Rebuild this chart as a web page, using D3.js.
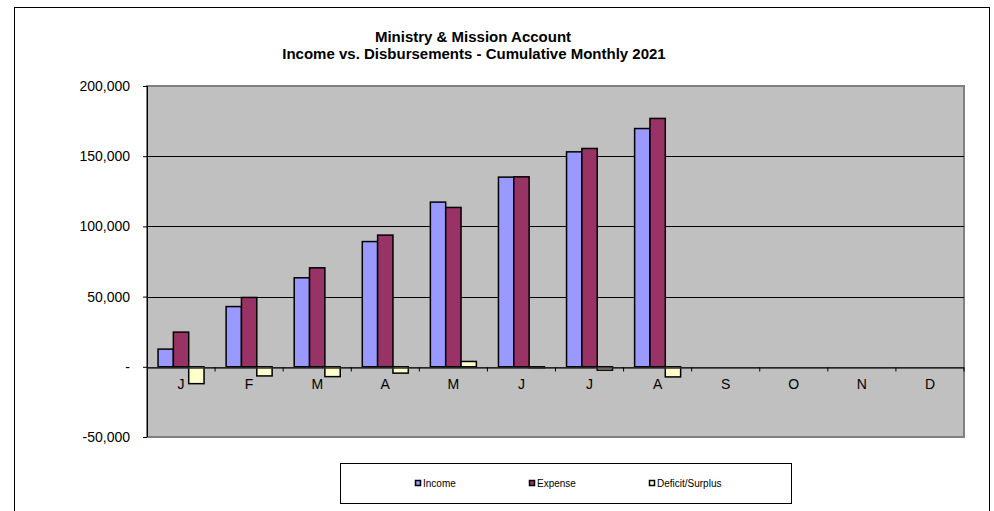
<!DOCTYPE html>
<html>
<head>
<meta charset="utf-8">
<script src="https://cdn.jsdelivr.net/npm/d3@7"></script>
<style>
  body { margin: 0; background: #fff; }
  text { font-family: "Liberation Sans", Arial, sans-serif; fill: #000; }
</style>
</head>
<body>
<div id="chart"></div>
<script>
var months = ["J", "F", "M", "A", "M", "J", "J", "A", "S", "O", "N", "D"];
var seriesNames = ["Income", "Expense", "Deficit/Surplus"];
var income  = [12600, 42900, 63400, 89200, 117300, 135100, 153100, 169700, null, null, null, null];
var expense = [24700, 49400, 70500, 93800, 113500, 135300, 155500, 176900, null, null, null, null];
var deficit = [-12000, -6500, -7000, -4500, 3800, -200, -2400, -7200, null, null, null, null];
var yTicks = [-50000, 0, 50000, 100000, 150000, 200000];
var colors = ["#9999ff", "#993366", "#ffffcc"];

var width = 994, height = 511;
var plot = { left: 147, top: 86, right: 964, bottom: 437 };

var svg = d3.select("#chart").append("svg")
  .attr("width", width)
  .attr("height", height);

/* outer frame */
svg.append("rect")
  .attr("x", 14.5).attr("y", 7.5)
  .attr("width", 975).attr("height", 520)
  .attr("fill", "#fff").attr("stroke", "#000").attr("stroke-width", 1);

/* title */
svg.append("text")
  .attr("x", 473).attr("y", 42)
  .attr("text-anchor", "middle")
  .style("font-size", "15px").style("font-weight", "bold")
  .text("Ministry & Mission Account");
svg.append("text")
  .attr("x", 474).attr("y", 59)
  .attr("text-anchor", "middle")
  .style("font-size", "15px").style("font-weight", "bold")
  .text("Income vs. Disbursements - Cumulative Monthly 2021");

/* scales */
var x = d3.scaleBand()
  .domain(d3.range(months.length))
  .range([plot.left, plot.right])
  .paddingInner(0).paddingOuter(0);

var xSub = d3.scaleBand()
  .domain(d3.range(seriesNames.length))
  .range([0, x.bandwidth()])
  .paddingInner(0).paddingOuter(0.72);

var y = d3.scaleLinear()
  .domain([-50000, 200000])
  .range([plot.bottom, plot.top]);

/* plot area */
svg.append("rect")
  .attr("x", plot.left).attr("y", plot.top)
  .attr("width", plot.right - plot.left).attr("height", plot.bottom - plot.top)
  .attr("fill", "#c0c0c0").attr("stroke", "#808080").attr("stroke-width", 2);

/* gridlines */
svg.append("g")
  .selectAll("line")
  .data(yTicks.filter(d => d !== -50000 && d !== 200000))
  .enter().append("line")
  .attr("x1", plot.left).attr("x2", plot.right)
  .attr("y1", d => Math.round(y(d)) + 0.5).attr("y2", d => Math.round(y(d)) + 0.5)
  .attr("stroke", "#000").attr("stroke-width", 1);

/* y axis */
var yAxis = d3.axisLeft(y)
  .tickValues(yTicks)
  .tickSize(4)
  .tickPadding(13)
  .tickFormat(d => d === 0 ? "-" : d3.format(",")(d).replace("\u2212", "-"));

var yG = svg.append("g")
  .attr("transform", `translate(${plot.left},0)`)
  .call(yAxis);
yG.select(".domain").attr("stroke", "#000").attr("d", `M0.5,${plot.top}V${plot.bottom}`);
yG.selectAll("text").style("font-size", "14px").style("font-family", "'Liberation Sans', Arial, sans-serif");

/* bars */
var seriesData = [income, expense, deficit];
var groups = svg.append("g").attr("class", "bars")
  .selectAll("g")
  .data(seriesData).enter()
  .append("g")
  .attr("fill", (d, i) => colors[i]);

groups.each(function(vals, si) {
  d3.select(this).selectAll("rect")
    .data(vals.map((v, i) => ({ v: v, i: i })).filter(d => d.v !== null))
    .enter().append("rect")
    .attr("x", d => x(d.i) + xSub(si))
    .attr("width", xSub.bandwidth())
    .attr("y", d => y(Math.max(0, d.v)))
    .attr("height", d => Math.max(1, Math.abs(y(d.v) - y(0))))
    .attr("stroke", "#000").attr("stroke-width", 1.5);
});

/* x axis along zero */
var xAxis = d3.axisBottom(x)
  .tickSize(0)
  .tickPadding(12)
  .tickFormat(i => months[i]);

var xG = svg.append("g")
  .attr("transform", `translate(0,${Math.round(y(0)) + 0.5})`)
  .call(xAxis);
xG.select(".domain").attr("stroke", "#333").attr("stroke-width", 1.5);
xG.selectAll("text").style("font-size", "14px").style("font-family", "'Liberation Sans', Arial, sans-serif");

/* category boundary ticks */
xG.append("g")
  .selectAll("line")
  .data(d3.range(1, months.length + 1))
  .enter().append("line")
  .attr("x1", i => i === months.length ? plot.right : x(i))
  .attr("x2", i => i === months.length ? plot.right : x(i))
  .attr("y1", 0).attr("y2", 4)
  .attr("stroke", "#000");

/* legend */
var legend = svg.append("g");
legend.append("rect")
  .attr("x", 340.5).attr("y", 463.5)
  .attr("width", 451).attr("height", 40)
  .attr("fill", "#fff").attr("stroke", "#000").attr("stroke-width", 1);

var legendX = [418, 532, 652];
var items = legend.selectAll("g.item")
  .data(seriesNames).enter()
  .append("g")
  .attr("class", "item")
  .attr("transform", (d, i) => `translate(${legendX[i]},483)`);

items.append("rect")
  .attr("x", -2.5).attr("y", -2.5)
  .attr("width", 5).attr("height", 5)
  .attr("fill", (d, i) => colors[i])
  .attr("stroke", "#000").attr("stroke-width", 1.5);

items.append("text")
  .attr("x", 5).attr("y", 3.5)
  .style("font-size", "10px")
  .text(d => d);
</script>
</body>
</html>
